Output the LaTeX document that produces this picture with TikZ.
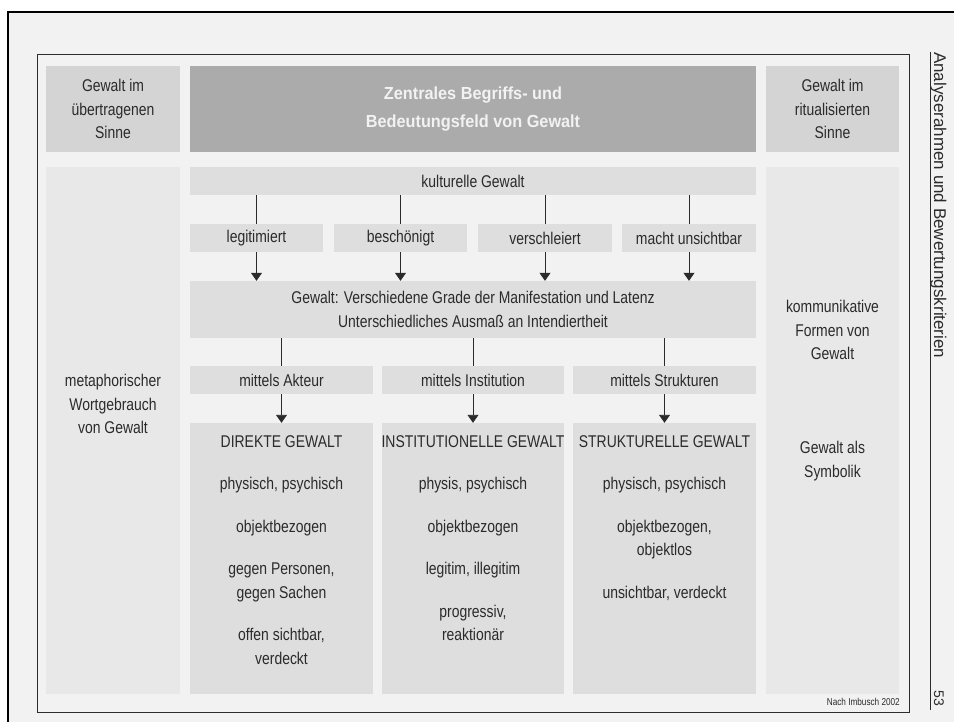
\documentclass[tikz,border=0pt]{standalone}
\usepackage{fontspec}
\setmainfont[FakeStretch=0.82]{Liberation Sans}
\newfontfamily\titelsans[FakeStretch=0.93]{Liberation Sans}
\newfontfamily\randsans{Liberation Sans}
\usetikzlibrary{arrows.meta,positioning}
\definecolor{papier}{HTML}{F2F2F2}
\definecolor{dunkel}{HTML}{ABABAB}
\definecolor{mittel}{HTML}{D4D4D4}
\definecolor{feldgrau}{HTML}{DEDEDE}
\definecolor{blass}{HTML}{E8E8E8}
\definecolor{tinte}{HTML}{2B2B2B}

\begin{document}
\begin{tikzpicture}[x=1pt,y=-1pt,
  txt/.style={text=tinte, align=center, inner sep=0pt, font=\fontsize{17}{23.5}\selectfont},
  seite/.style={txt, fill=mittel, minimum width=134pt, minimum height=86pt},
  kopf/.style={fill=dunkel, minimum width=566pt, minimum height=86pt, align=center, inner sep=0pt,
    text=white!95!black, font=\titelsans\bfseries\fontsize{17.5}{28}\selectfont},
  spalte/.style={fill=blass, minimum width=134pt, minimum height=527pt, inner sep=0pt},
  feld/.style={txt, fill=feldgrau, minimum height=28pt},
  block/.style={fill=feldgrau, minimum height=271pt, inner sep=0pt},
  liste/.style={txt, anchor=north},
  linie/.style={tinte, line width=0.9pt},
  pfeil/.style={tinte, line width=0.9pt, -{Triangle[width=11pt,length=8pt]}}]

\useasboundingbox (0,0) rectangle (954,722);
\fill[white] (0,0) rectangle (954,722);
\fill[papier] (8,12) rectangle (954,722);
\draw[line width=2.5pt] (954,12) -- (8,12) -- (8,722);
\draw[gray!35!black, line width=0.9pt] (37,54) rectangle (909,712);

\node[seite] (uebertragen) at (113,109) {Gewalt im\\übertragenen\\Sinne};
\node[kopf] (zentral) at (473,109) {Zentrales Begriffs- und\\Bedeutungsfeld von Gewalt};
\node[seite, minimum width=133pt] (ritual) at (832.5,109) {Gewalt im\\ritualisierten\\Sinne};

\node[spalte] (links) at (113,430.5) {};
\node[spalte, minimum width=133pt] (rechts) at (832.5,430.5) {};
\node[txt] (metapher) at (113,404) {metaphorischer\\Wortgebrauch\\von Gewalt};
\node[txt] (kommunikativ) at (832.5,330) {kommunikative\\Formen von\\Gewalt};
\node[txt] (symbolik) at (832.5,461) {Gewalt als\\Symbolik};

\node[feld, minimum width=566pt] (kultur) at (473,181) {kulturelle Gewalt};
\node[feld, minimum width=133pt] (legit) at (256.5,238) {legitimiert};
\node[feld, minimum width=133pt] (beschoen) at (400.5,238) {beschönigt};
\node[feld, minimum width=134pt] (verschl) at (545,238) {verschleiert};
\node[feld, minimum width=134pt] (unsicht) at (689,238) {macht unsichtbar};
\node[feld, minimum width=566pt, minimum height=57pt] (grade) at (473,309.5)
  {Gewalt: Verschiedene Grade der Manifestation und Latenz\\Unterschiedliches Ausmaß an Intendiertheit};

\node[feld, minimum width=183pt] (akteur) at (281.5,380) {mittels Akteur};
\node[feld, minimum width=182pt] (instit) at (473,380) {mittels Institution};
\node[feld, minimum width=183pt] (strukt) at (664.5,380) {mittels Strukturen};

\node[block, minimum width=183pt] (direkt) at (281.5,558.5) {};
\node[block, minimum width=182pt] (institutionell) at (473,558.5) {};
\node[block, minimum width=183pt] (strukturell) at (664.5,558.5) {};
\node[liste] (direkttxt) at (281.5,435) {DIREKTE GEWALT\\[19pt]physisch, psychisch\\[19pt]objektbezogen\\[19pt]gegen Personen,\\gegen Sachen\\[19pt]offen sichtbar,\\verdeckt};
\node[liste] (instittxt) at (473,435) {INSTITUTIONELLE GEWALT\\[19pt]physis, psychisch\\[19pt]objektbezogen\\[19pt]legitim, illegitim\\[19pt]progressiv,\\reaktionär};
\node[liste] (strukttxt) at (664.5,435) {STRUKTURELLE GEWALT\\[19pt]physisch, psychisch\\[19pt]objektbezogen,\\objektlos\\[19pt]unsichtbar, verdeckt};

\draw[linie] (legit.north |- kultur.south) -- (legit.north);
\draw[linie] (beschoen.north |- kultur.south) -- (beschoen.north);
\draw[linie] (verschl.north |- kultur.south) -- (verschl.north);
\draw[linie] (unsicht.north |- kultur.south) -- (unsicht.north);
\draw[pfeil] (legit.south) -- (legit.south |- grade.north);
\draw[pfeil] (beschoen.south) -- (beschoen.south |- grade.north);
\draw[pfeil] (verschl.south) -- (verschl.south |- grade.north);
\draw[pfeil] (unsicht.south) -- (unsicht.south |- grade.north);

\draw[linie] (akteur.north |- grade.south) -- (akteur.north);
\draw[linie] (instit.north |- grade.south) -- (instit.north);
\draw[linie] (strukt.north |- grade.south) -- (strukt.north);
\draw[pfeil] (akteur.south) -- (direkt.north);
\draw[pfeil] (instit.south) -- (institutionell.north);
\draw[pfeil] (strukt.south) -- (strukturell.north);

\node[anchor=east, text=tinte, inner sep=0pt, font=\fontsize{10}{12}\selectfont] (quelle) at (900,702) {Nach Imbusch 2002};
\draw[tinte, line width=0.8pt] (930,52) -- (930,710);
\node[rotate=-90, anchor=base west, inner sep=0pt, text=tinte, font=\randsans\fontsize{17}{20}\selectfont] (rahmen) at (934,52) {Analyserahmen und Bewertungskriterien};
\node[rotate=-90, anchor=base east, inner sep=0pt, text=tinte, font=\randsans\fontsize{14}{16}\selectfont] (seitenzahl) at (934,706) {53};
\end{tikzpicture}
\end{document}
